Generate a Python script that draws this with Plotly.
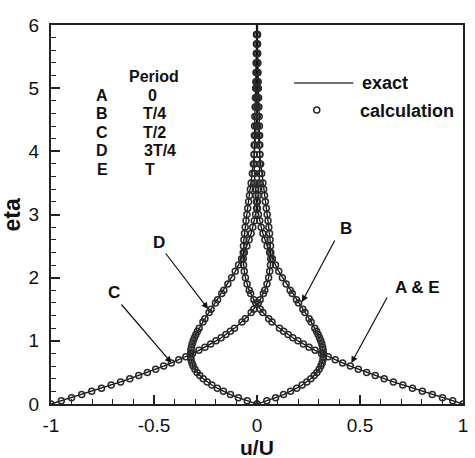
import plotly.graph_objects as go

# ---------------- data ----------------
eta = [0.00, 0.05, 0.10, 0.15, 0.20, 0.25, 0.30, 0.35, 0.40, 0.45,
       0.50, 0.55, 0.60, 0.65, 0.70, 0.75, 0.80, 0.85, 0.90, 0.95,
       1.00, 1.05, 1.10, 1.15, 1.20, 1.25, 1.30, 1.35, 1.40, 1.45,
       1.50, 1.55, 1.60, 1.65, 1.70, 1.75, 1.80, 1.85, 1.90, 1.95,
       2.00, 2.05, 2.10, 2.15, 2.20, 2.25, 2.30, 2.35, 2.40, 2.45,
       2.50, 2.55, 2.60, 2.65, 2.70, 2.75, 2.80, 2.85, 2.90, 2.95,
       3.00, 3.05, 3.10, 3.15, 3.20, 3.25, 3.30, 3.35, 3.40, 3.45,
       3.50, 3.55, 3.60, 3.65, 3.70, 3.75, 3.80, 3.85, 3.90, 3.95,
       4.00, 4.05, 4.10, 4.15, 4.20, 4.25, 4.30, 4.35, 4.40, 4.45,
       4.50, 4.55, 4.60, 4.65, 4.70, 4.75, 4.80, 4.85, 4.90, 4.95,
       5.00, 5.05, 5.10, 5.15, 5.20, 5.25, 5.30, 5.35, 5.40, 5.45,
       5.50, 5.55, 5.60, 5.65, 5.70, 5.75, 5.80, 5.85, 5.90, 5.95,
       6.00]

u_A = [1.0000, 0.9500, 0.9003, 0.8510, 0.8024, 0.7546, 0.7077, 0.6620, 0.6174, 0.5742,
       0.5323, 0.4919, 0.4530, 0.4156, 0.3798, 0.3456, 0.3131, 0.2821, 0.2527, 0.2250,
       0.1988, 0.1741, 0.1510, 0.1293, 0.1091, 0.0903, 0.0729, 0.0568, 0.0419, 0.0283,
       0.0158, 0.0044, -0.0059, -0.0152, -0.0235, -0.0310, -0.0376, -0.0433, -0.0484, -0.0527,
       -0.0563, -0.0594, -0.0618, -0.0638, -0.0652, -0.0662, -0.0668, -0.0670, -0.0669, -0.0665,
       -0.0658, -0.0648, -0.0636, -0.0623, -0.0608, -0.0591, -0.0573, -0.0554, -0.0534, -0.0514,
       -0.0493, -0.0472, -0.0450, -0.0428, -0.0407, -0.0385, -0.0364, -0.0343, -0.0323, -0.0303,
       -0.0283, -0.0264, -0.0245, -0.0227, -0.0210, -0.0193, -0.0177, -0.0162, -0.0147, -0.0133,
       -0.0120, -0.0107, -0.0095, -0.0084, -0.0074, -0.0064, -0.0054, -0.0046, -0.0038, -0.0030,
       -0.0023, -0.0017, -0.0011, -0.0006, -0.0001, 0.0003, 0.0007, 0.0011, 0.0014, 0.0017,
       0.0019, 0.0021, 0.0023, 0.0025, 0.0026, 0.0027, 0.0028, 0.0028, 0.0029, 0.0029,
       0.0029, 0.0029, 0.0029, 0.0028, 0.0028, 0.0027, 0.0027, 0.0026, 0.0025, 0.0025,
       0.0024]

u_B = [0.0000, 0.0475, 0.0903, 0.1286, 0.1627, 0.1927, 0.2189, 0.2416, 0.2610, 0.2774,
       0.2908, 0.3016, 0.3099, 0.3159, 0.3199, 0.3220, 0.3223, 0.3211, 0.3185, 0.3146,
       0.3096, 0.3035, 0.2967, 0.2890, 0.2807, 0.2719, 0.2626, 0.2529, 0.2430, 0.2329,
       0.2226, 0.2122, 0.2018, 0.1914, 0.1812, 0.1710, 0.1610, 0.1512, 0.1415, 0.1322,
       0.1231, 0.1142, 0.1057, 0.0975, 0.0896, 0.0820, 0.0748, 0.0679, 0.0613, 0.0550,
       0.0491, 0.0435, 0.0383, 0.0333, 0.0287, 0.0244, 0.0204, 0.0166, 0.0132, 0.0100,
       0.0070, 0.0043, 0.0019, -0.0004, -0.0024, -0.0042, -0.0058, -0.0073, -0.0085, -0.0096,
       -0.0106, -0.0114, -0.0121, -0.0127, -0.0131, -0.0134, -0.0137, -0.0138, -0.0139, -0.0139,
       -0.0139, -0.0137, -0.0136, -0.0133, -0.0131, -0.0128, -0.0124, -0.0121, -0.0117, -0.0113,
       -0.0109, -0.0104, -0.0100, -0.0095, -0.0091, -0.0086, -0.0082, -0.0078, -0.0073, -0.0069,
       -0.0065, -0.0060, -0.0056, -0.0053, -0.0049, -0.0045, -0.0042, -0.0038, -0.0035, -0.0032,
       -0.0029, -0.0026, -0.0023, -0.0021, -0.0018, -0.0016, -0.0014, -0.0012, -0.0010, -0.0009,
       -0.0007]

u_C = [-1.0000, -0.9500, -0.9003, -0.8510, -0.8024, -0.7546, -0.7077, -0.6620, -0.6174, -0.5742,
       -0.5323, -0.4919, -0.4530, -0.4156, -0.3798, -0.3456, -0.3131, -0.2821, -0.2527, -0.2250,
       -0.1988, -0.1741, -0.1510, -0.1293, -0.1091, -0.0903, -0.0729, -0.0568, -0.0419, -0.0283,
       -0.0158, -0.0044, 0.0059, 0.0152, 0.0235, 0.0310, 0.0376, 0.0433, 0.0484, 0.0527,
       0.0563, 0.0594, 0.0618, 0.0638, 0.0652, 0.0662, 0.0668, 0.0670, 0.0669, 0.0665,
       0.0658, 0.0648, 0.0636, 0.0623, 0.0608, 0.0591, 0.0573, 0.0554, 0.0534, 0.0514,
       0.0493, 0.0472, 0.0450, 0.0428, 0.0407, 0.0385, 0.0364, 0.0343, 0.0323, 0.0303,
       0.0283, 0.0264, 0.0245, 0.0227, 0.0210, 0.0193, 0.0177, 0.0162, 0.0147, 0.0133,
       0.0120, 0.0107, 0.0095, 0.0084, 0.0074, 0.0064, 0.0054, 0.0046, 0.0038, 0.0030,
       0.0023, 0.0017, 0.0011, 0.0006, 0.0001, -0.0003, -0.0007, -0.0011, -0.0014, -0.0017,
       -0.0019, -0.0021, -0.0023, -0.0025, -0.0026, -0.0027, -0.0028, -0.0028, -0.0029, -0.0029,
       -0.0029, -0.0029, -0.0029, -0.0028, -0.0028, -0.0027, -0.0027, -0.0026, -0.0025, -0.0025,
       -0.0024]

u_D = [0.0000, -0.0475, -0.0903, -0.1286, -0.1627, -0.1927, -0.2189, -0.2416, -0.2610, -0.2774,
       -0.2908, -0.3016, -0.3099, -0.3159, -0.3199, -0.3220, -0.3223, -0.3211, -0.3185, -0.3146,
       -0.3096, -0.3035, -0.2967, -0.2890, -0.2807, -0.2719, -0.2626, -0.2529, -0.2430, -0.2329,
       -0.2226, -0.2122, -0.2018, -0.1914, -0.1812, -0.1710, -0.1610, -0.1512, -0.1415, -0.1322,
       -0.1231, -0.1142, -0.1057, -0.0975, -0.0896, -0.0820, -0.0748, -0.0679, -0.0613, -0.0550,
       -0.0491, -0.0435, -0.0383, -0.0333, -0.0287, -0.0244, -0.0204, -0.0166, -0.0132, -0.0100,
       -0.0070, -0.0043, -0.0019, 0.0004, 0.0024, 0.0042, 0.0058, 0.0073, 0.0085, 0.0096,
       0.0106, 0.0114, 0.0121, 0.0127, 0.0131, 0.0134, 0.0137, 0.0138, 0.0139, 0.0139,
       0.0139, 0.0137, 0.0136, 0.0133, 0.0131, 0.0128, 0.0124, 0.0121, 0.0117, 0.0113,
       0.0109, 0.0104, 0.0100, 0.0095, 0.0091, 0.0086, 0.0082, 0.0078, 0.0073, 0.0069,
       0.0065, 0.0060, 0.0056, 0.0053, 0.0049, 0.0045, 0.0042, 0.0038, 0.0035, 0.0032,
       0.0029, 0.0026, 0.0023, 0.0021, 0.0018, 0.0016, 0.0014, 0.0012, 0.0010, 0.0009,
       0.0007]

# eta stations where the calculation symbols are shown (grid stretched away from the wall)
eta_calc = [0.00, 0.05, 0.10, 0.15, 0.20, 0.25, 0.30, 0.35, 0.40, 0.45, 0.50, 0.55, 0.60,
            0.65, 0.70, 0.75, 0.80, 0.85, 0.90, 0.95, 1.00, 1.05, 1.10, 1.15, 1.20,
            1.30, 1.35, 1.45, 1.50, 1.60, 1.65, 1.75, 1.80, 1.90, 2.00, 2.10, 2.20, 2.30,
            2.40, 2.50, 2.60, 2.70, 2.80, 2.90, 3.00, 3.10, 3.20, 3.30, 3.40, 3.50, 3.65,
            3.80, 3.95, 4.10, 4.25, 4.40, 4.55, 4.70, 4.85, 5.00, 5.10, 5.25, 5.40, 5.55,
            5.70, 5.85]

period_letters = ["A", "B", "C", "D", "E"]
period_values = ["0", "T/4", "T/2", "3T/4", "T"]

x_tickvals = [-1, -0.5, 0, 0.5, 1]
x_ticktext = ["-1", "-0.5", "0", "0.5", "1"]
y_tickvals = [0, 1, 2, 3, 4, 5, 6]
y_ticktext = ["0", "1", "2", "3", "4", "5", "6"]

# ---------------- figure ----------------
FONT = "Liberation Sans, Arial, sans-serif"
LINE_COLOR = "#111111"
SYM_COLOR = "#2a2a2a"

idx = {round(e * 100): i for i, e in enumerate(eta)}
calc_idx = [idx[round(e * 100)] for e in eta_calc]

fig = go.Figure()
for u in (u_A, u_B, u_C, u_D):
    fig.add_trace(go.Scatter(x=u, y=eta, mode="lines",
                             line=dict(color=LINE_COLOR, width=1.3),
                             showlegend=False, hoverinfo="skip"))
for u in (u_A, u_B, u_C, u_D):
    fig.add_trace(go.Scatter(x=[u[i] for i in calc_idx], y=[eta[i] for i in calc_idx],
                             mode="markers",
                             marker=dict(symbol="circle-open", size=6,
                                         color=SYM_COLOR, line=dict(width=1.5, color=SYM_COLOR)),
                             showlegend=False, hoverinfo="skip"))

W, H = 475, 458
L, R, T, B = 51, 7, 25, 54
pw, ph = W - L - R, H - T - B


def px2u(px):
    return -1 + 2 * (px - L) / pw


def py2eta(py):
    return 6 * (H - B - py) / ph


annotations = []
shapes = []

# Period table
annotations.append(dict(x=px2u(155), y=py2eta(76), xref="x", yref="y", text="Period",
                        showarrow=False, font=dict(family=FONT, size=16, color="#111"),
                        xanchor="center", yanchor="middle"))
row_y = [95, 113.5, 132, 150.5, 169]
val_x = [154, 156, 156, 161, 151]
for i, (lt, vt) in enumerate(zip(period_letters, period_values)):
    annotations.append(dict(x=px2u(103), y=py2eta(row_y[i]), xref="x", yref="y", text=lt,
                            showarrow=False, font=dict(family=FONT, size=16, color="#111"),
                            xanchor="center", yanchor="middle"))
    annotations.append(dict(x=px2u(val_x[i]), y=py2eta(row_y[i]), xref="x", yref="y", text=vt,
                            showarrow=False, font=dict(family=FONT, size=16, color="#111"),
                            xanchor="center", yanchor="middle"))

# Legend (drawn manually)
shapes.append(dict(type="line", xref="x", yref="y", x0=px2u(297), x1=px2u(357),
                   y0=py2eta(83), y1=py2eta(83), line=dict(color="#444", width=1.6)))
annotations.append(dict(x=px2u(364), y=py2eta(83), xref="x", yref="y", text="exact",
                        showarrow=False, font=dict(family=FONT, size=18, color="#111"),
                        xanchor="left", yanchor="middle"))
shapes.append(dict(type="circle", xref="x", yref="y", xsizemode="pixel", ysizemode="pixel",
                   xanchor=px2u(320), yanchor=py2eta(110), x0=-3, x1=3, y0=-3, y1=3,
                   line=dict(color=SYM_COLOR, width=1.5)))
annotations.append(dict(x=px2u(362), y=py2eta(111), xref="x", yref="y", text="calculation",
                        showarrow=False, font=dict(family=FONT, size=18, color="#111"),
                        xanchor="left", yanchor="middle"))

# Curve labels with arrows
labels = [
    ("D", (160, 242), (166, 252), (210, 309)),
    ("C", (115, 292), (121, 303), (173, 363)),
    ("B", (350, 228), (339, 239), (305, 302)),
    ("A & E", (422, 287), (392, 296), (355, 363)),
]
for txt, tpos, tail, tip in labels:
    annotations.append(dict(x=px2u(tpos[0]), y=py2eta(tpos[1]), xref="x", yref="y", text=txt,
                            showarrow=False, font=dict(family=FONT, size=17, color="#111"),
                            xanchor="center", yanchor="middle"))
    annotations.append(dict(x=px2u(tip[0]), y=py2eta(tip[1]), xref="x", yref="y",
                            ax=px2u(tail[0]), ay=py2eta(tail[1]), axref="x", ayref="y",
                            text="", showarrow=True, arrowhead=2, arrowsize=1.1,
                            arrowwidth=1.2, arrowcolor="#111", standoff=0, startstandoff=0))

# Axis titles
annotations.append(dict(x=0.5, y=-(447 - (H - B)) / ph, xref="paper", yref="paper",
                        text="<b>u/U</b>", showarrow=False,
                        font=dict(family=FONT, size=21, color="#111"),
                        xanchor="center", yanchor="middle"))
annotations.append(dict(x=(12 - L) / pw, y=(H - B - 215) / ph, xref="paper", yref="paper",
                        text="<b>eta</b>", showarrow=False, textangle=-90,
                        font=dict(family=FONT, size=23, color="#111"),
                        xanchor="center", yanchor="middle"))

# bold fonts for annotations without explicit <b>
for a in annotations:
    if a.get("text") and not a["text"].startswith("<b>"):
        a["text"] = "<b>" + a["text"] + "</b>"

axis_common = dict(showgrid=False, zeroline=False, showline=True, linecolor="#222",
                   linewidth=2, mirror=True, ticks="inside", tickcolor="#222",
                   tickwidth=1.5, ticklen=9,
                   tickfont=dict(family=FONT, size=19, color="#111"))

fig.update_layout(
    width=W, height=H,
    margin=dict(l=L, r=R, t=T, b=B, pad=0),
    paper_bgcolor="white", plot_bgcolor="white",
    showlegend=False,
    xaxis=dict(range=[-1, 1], tickvals=x_tickvals, ticktext=x_ticktext,
               minor=dict(ticks="inside", dtick=0.1, tick0=0, ticklen=5,
                          tickwidth=1.2, tickcolor="#222"),
               ticklabelstandoff=3, **axis_common),
    yaxis=dict(range=[0, 6], tickvals=y_tickvals, ticktext=y_ticktext,
               minor=dict(ticks="inside", dtick=0.2, tick0=0, ticklen=5,
                          tickwidth=1.2, tickcolor="#222"),
               ticklabelstandoff=6, **axis_common),
    annotations=annotations,
    shapes=shapes,
)

fig.write_html("out.html")
